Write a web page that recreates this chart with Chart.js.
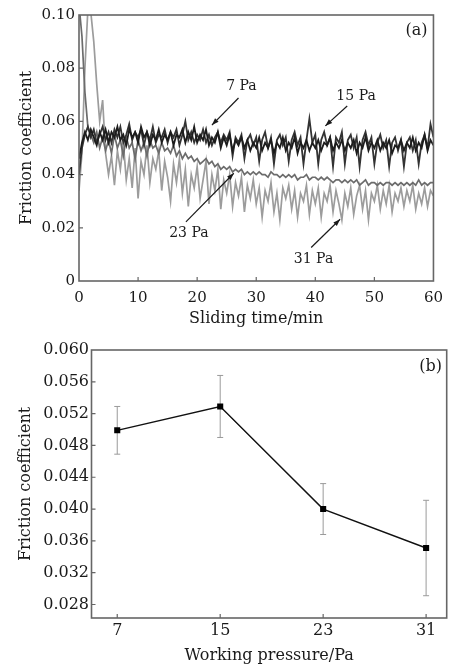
<!DOCTYPE html>
<html>
<head>
<meta charset="utf-8">
<script src="https://cdn.jsdelivr.net/npm/chart.js@4.4.0/dist/chart.umd.min.js"></script>
<style>
    body { margin: 0; background: #fff; }
    #wrapA { position: absolute; left: 0; top: 0; width: 451px; height: 330px; }
    #wrapB { position: absolute; left: 0; top: 330px; width: 451px; height: 336px; }
</style>
</head>
<body>
<div id="wrapA"><canvas id="chartA"></canvas></div>
<div id="wrapB"><canvas id="chartB"></canvas></div>
<script>
// ---- Panel (a): friction traces, one sample every 0.5 min from 0 to 60 min ----
const timeStep = 0.5;
const xTicksA = [0, 10, 20, 30, 40, 50, 60];
const yTicksA = [0, 0.02, 0.04, 0.06, 0.08, 0.10];
const yTickLabelsA = ['0', '0.02', '0.04', '0.06', '0.08', '0.10'];

const trace7Pa = [
    0.046, 0.052, 0.056, 0.053, 0.057, 0.054, 0.051, 0.056, 0.053, 0.057,
    0.052, 0.056, 0.054, 0.058, 0.053, 0.055, 0.051, 0.057, 0.054, 0.056,
    0.052, 0.058, 0.054, 0.056, 0.051, 0.055, 0.053, 0.057, 0.052, 0.055,
    0.053, 0.056, 0.051, 0.055, 0.054, 0.057, 0.052, 0.056, 0.053, 0.058,
    0.052, 0.055, 0.053, 0.057, 0.051, 0.054, 0.052, 0.056, 0.050, 0.054,
    0.051, 0.055, 0.049, 0.053, 0.051, 0.054, 0.050, 0.053, 0.049, 0.052,
    0.050, 0.054, 0.049, 0.052, 0.050, 0.053, 0.048, 0.052, 0.050, 0.054,
    0.049, 0.052, 0.050, 0.054, 0.048, 0.052, 0.050, 0.053, 0.049, 0.052,
    0.050, 0.053, 0.049, 0.052, 0.051, 0.054, 0.049, 0.052, 0.050, 0.053,
    0.049, 0.052, 0.050, 0.053, 0.048, 0.052, 0.050, 0.054, 0.049, 0.052,
    0.050, 0.053, 0.049, 0.052, 0.050, 0.053, 0.048, 0.051, 0.050, 0.053,
    0.049, 0.052, 0.050, 0.054, 0.049, 0.052, 0.050, 0.055, 0.049, 0.053,
    0.051
];
const trace15Pa = [
    0.040, 0.050, 0.055, 0.058, 0.054, 0.057, 0.052, 0.055, 0.058, 0.053,
    0.056, 0.052, 0.057, 0.054, 0.058, 0.052, 0.055, 0.059, 0.053, 0.056,
    0.054, 0.057, 0.051, 0.056, 0.053, 0.058, 0.052, 0.055, 0.054, 0.057,
    0.052, 0.056, 0.054, 0.057, 0.051, 0.055, 0.060, 0.053, 0.056, 0.052,
    0.055, 0.053, 0.057, 0.052, 0.055, 0.051, 0.054, 0.056, 0.052, 0.055,
    0.053, 0.056, 0.047, 0.054, 0.052, 0.055, 0.046, 0.053, 0.055, 0.051,
    0.054, 0.045, 0.053, 0.056, 0.050, 0.054, 0.044, 0.053, 0.055, 0.051,
    0.054, 0.045, 0.053, 0.056, 0.051, 0.054, 0.044, 0.053, 0.061, 0.052,
    0.055, 0.044, 0.053, 0.056, 0.051, 0.054, 0.043, 0.054, 0.052, 0.056,
    0.044, 0.053, 0.055, 0.050, 0.054, 0.043, 0.053, 0.056, 0.051, 0.054,
    0.044, 0.052, 0.055, 0.050, 0.053, 0.043, 0.052, 0.054, 0.049, 0.053,
    0.043, 0.052, 0.054, 0.049, 0.053, 0.044, 0.052, 0.055, 0.050, 0.059,
    0.054
];
const trace23Pa = [
    0.104, 0.092, 0.071, 0.058, 0.055, 0.052, 0.056, 0.050, 0.054, 0.049,
    0.053, 0.048, 0.055, 0.050, 0.053, 0.047, 0.054, 0.050, 0.052, 0.046,
    0.053, 0.049, 0.052, 0.047, 0.053, 0.050, 0.051, 0.048, 0.052, 0.049,
    0.050, 0.048, 0.051, 0.047, 0.049, 0.046, 0.048, 0.046, 0.047, 0.045,
    0.046, 0.044, 0.045, 0.046, 0.044, 0.045, 0.043, 0.044, 0.042, 0.043,
    0.042, 0.043, 0.041, 0.042, 0.041, 0.042, 0.040, 0.041, 0.040, 0.041,
    0.040, 0.041, 0.040, 0.040, 0.039, 0.041, 0.040, 0.040, 0.039, 0.040,
    0.039, 0.040, 0.039, 0.040, 0.038, 0.039, 0.039, 0.040, 0.038, 0.039,
    0.039, 0.038, 0.039, 0.038, 0.039, 0.038, 0.037, 0.038, 0.038, 0.037,
    0.038, 0.037, 0.038, 0.037, 0.038, 0.036, 0.037, 0.038, 0.036, 0.037,
    0.037, 0.036, 0.037, 0.036, 0.037, 0.037, 0.036, 0.037, 0.036, 0.037,
    0.036, 0.037, 0.036, 0.037, 0.036, 0.038, 0.036, 0.037, 0.036, 0.037,
    0.037
];
const trace31Pa = [
    0.034, 0.048, 0.080, 0.102, 0.101, 0.090, 0.074, 0.060, 0.068, 0.048,
    0.040, 0.047, 0.036, 0.049, 0.042, 0.052, 0.038, 0.046, 0.035, 0.050,
    0.031, 0.045, 0.040, 0.051, 0.037, 0.046, 0.042, 0.049, 0.034, 0.045,
    0.039, 0.030, 0.044, 0.037, 0.046, 0.033, 0.042, 0.028, 0.040, 0.035,
    0.043, 0.031, 0.038, 0.045, 0.029, 0.040, 0.034, 0.042, 0.027, 0.038,
    0.033, 0.040, 0.028, 0.037, 0.032, 0.039, 0.026, 0.036, 0.031, 0.038,
    0.029, 0.035, 0.024, 0.034, 0.030, 0.037, 0.026, 0.033, 0.023, 0.035,
    0.031, 0.036, 0.027, 0.034, 0.024, 0.033, 0.030, 0.036, 0.025, 0.034,
    0.029, 0.035, 0.024, 0.033, 0.030, 0.036, 0.026, 0.034, 0.029, 0.023,
    0.033, 0.028, 0.035, 0.025, 0.032, 0.036, 0.027, 0.034, 0.023, 0.033,
    0.030, 0.036, 0.027, 0.034, 0.029, 0.036, 0.026, 0.033, 0.030, 0.035,
    0.028, 0.034, 0.030, 0.036, 0.027, 0.033, 0.029, 0.035, 0.028, 0.034,
    0.032
];

// ---- Panel (b): mean friction coefficient vs working pressure ----
const pressures = [7, 15, 23, 31];
const meanFriction = [0.0499, 0.0529, 0.0400, 0.0351];
const errLow = [0.0469, 0.0490, 0.0368, 0.0291];
const errHigh = [0.0529, 0.0568, 0.0432, 0.0411];
const xTicksB = [7, 15, 23, 31];
const yTicksB = [0.028, 0.032, 0.036, 0.040, 0.044, 0.048, 0.052, 0.056, 0.060];

// Arrow labels of panel (a), placed in data units
const traceNotes = [
    { text: '7 Pa', at: [27.5, 0.0733], from: [27.0, 0.0688], to: [22.5, 0.0586] },
    { text: '15 Pa', at: [46.9, 0.0695], from: [45.4, 0.0658], to: [41.7, 0.0583] },
    { text: '23 Pa', at: [18.6, 0.0180], from: [18.1, 0.0222], to: [26.2, 0.0405] },
    { text: '31 Pa', at: [39.7, 0.0083], from: [39.3, 0.0126], to: [44.2, 0.0232] }
];

Chart.defaults.font.family = "'DejaVu Serif', 'Liberation Serif', serif";
Chart.defaults.color = '#1a1a1a';
Chart.defaults.responsive = true;
Chart.defaults.maintainAspectRatio = false;
Chart.defaults.animation = false;

const toPoints = vals => vals.map((v, i) => ({ x: i * timeStep, y: v }));

// Box frame, inward ticks and the panel tag
const framePlugin = {
    id: 'frame',
    afterDraw(chart, args, opts) {
        const { ctx, chartArea: a, scales } = chart;
        ctx.save();
        ctx.strokeStyle = '#666';
        ctx.lineWidth = 1.2;
        ctx.beginPath();
        scales.x.ticks.forEach(t => {
            const px = scales.x.getPixelForValue(t.value);
            if (px <= a.left + 1 || px >= a.right - 1) return;
            ctx.moveTo(px, a.bottom);
            ctx.lineTo(px, a.bottom - 4);
        });
        scales.y.ticks.forEach(t => {
            const py = scales.y.getPixelForValue(t.value);
            if (py <= a.top + 1 || py >= a.bottom - 1) return;
            ctx.moveTo(a.left, py);
            ctx.lineTo(a.left + 4, py);
        });
        ctx.stroke();
        ctx.lineWidth = 1.6;
        ctx.strokeRect(a.left, a.top, a.right - a.left, a.bottom - a.top);
        ctx.fillStyle = '#1a1a1a';
        ctx.font = "16px 'DejaVu Serif'";
        ctx.textAlign = 'center';
        ctx.textBaseline = 'middle';
        ctx.fillText(opts.tag, a.right - opts.dx, a.top + opts.dy);
        ctx.restore();
    }
};

// Text + arrow annotations for panel (a)
const notesPlugin = {
    id: 'notes',
    afterDatasetsDraw(chart) {
        const { ctx, scales: { x, y } } = chart;
        ctx.save();
        ctx.fillStyle = '#1a1a1a';
        ctx.strokeStyle = '#1a1a1a';
        ctx.lineWidth = 1.2;
        ctx.font = "14px 'DejaVu Serif'";
        ctx.textAlign = 'center';
        ctx.textBaseline = 'middle';
        traceNotes.forEach(n => {
            ctx.fillText(n.text, x.getPixelForValue(n.at[0]), y.getPixelForValue(n.at[1]));
            const x0 = x.getPixelForValue(n.from[0]), y0 = y.getPixelForValue(n.from[1]);
            const x1 = x.getPixelForValue(n.to[0]), y1 = y.getPixelForValue(n.to[1]);
            const ang = Math.atan2(y1 - y0, x1 - x0);
            ctx.beginPath();
            ctx.moveTo(x0, y0);
            ctx.lineTo(x1, y1);
            ctx.stroke();
            ctx.beginPath();
            ctx.moveTo(x1, y1);
            ctx.lineTo(x1 - 7 * Math.cos(ang) + 2.5 * Math.sin(ang), y1 - 7 * Math.sin(ang) - 2.5 * Math.cos(ang));
            ctx.lineTo(x1 - 7 * Math.cos(ang) - 2.5 * Math.sin(ang), y1 - 7 * Math.sin(ang) + 2.5 * Math.cos(ang));
            ctx.closePath();
            ctx.fill();
        });
        ctx.restore();
    }
};

// Error bars for panel (b)
const errorBarPlugin = {
    id: 'errorBars',
    beforeDatasetsDraw(chart) {
        const { ctx, scales: { x, y } } = chart;
        ctx.save();
        ctx.strokeStyle = '#9a9a9a';
        ctx.lineWidth = 1;
        ctx.beginPath();
        pressures.forEach((p, i) => {
            const px = x.getPixelForValue(p);
            const lo = y.getPixelForValue(errLow[i]);
            const hi = y.getPixelForValue(errHigh[i]);
            ctx.moveTo(px, lo); ctx.lineTo(px, hi);
            ctx.moveTo(px - 3, lo); ctx.lineTo(px + 3, lo);
            ctx.moveTo(px - 3, hi); ctx.lineTo(px + 3, hi);
        });
        ctx.stroke();
        ctx.restore();
    }
};

function traceSet(label, vals, color, width) {
    return {
        label: label,
        data: toPoints(vals),
        borderColor: color,
        borderWidth: width,
        pointRadius: 0,
        tension: 0,
        fill: false
    };
}

// Chart (a)
new Chart(document.getElementById('chartA').getContext('2d'), {
    type: 'line',
    data: {
        datasets: [
            traceSet('7 Pa', trace7Pa, '#1c1c1c', 1.8),
            traceSet('15 Pa', trace15Pa, '#333333', 1.8),
            traceSet('23 Pa', trace23Pa, '#6c6c6c', 1.7),
            traceSet('31 Pa', trace31Pa, '#9c9c9c', 1.7)
        ]
    },
    options: {
        layout: { padding: { left: 0, right: 14, top: 15, bottom: 0 } },
        plugins: {
            legend: { display: false },
            tooltip: { enabled: false },
            frame: { tag: '(a)', dx: 17, dy: 16 }
        },
        scales: {
            x: {
                type: 'linear',
                min: 0,
                max: 60,
                afterBuildTicks: s => { s.ticks = xTicksA.map(v => ({ value: v })); },
                afterFit: s => { s.height = 49; },
                ticks: { padding: 8, font: { size: 15 }, maxRotation: 0 },
                grid: { display: false, drawTicks: false },
                border: { display: false },
                title: { display: true, text: 'Sliding time/min', font: { size: 16 }, padding: { top: 0, bottom: 2 } }
            },
            y: {
                min: 0,
                max: 0.1,
                afterBuildTicks: s => { s.ticks = yTicksA.map(v => ({ value: v })); },
                afterFit: s => { s.width = 79; },
                ticks: { padding: 4, font: { size: 15 }, callback: (v, i) => yTickLabelsA[i] },
                grid: { display: false, drawTicks: false },
                border: { display: false },
                title: { display: true, text: 'Friction coefficient', font: { size: 16 }, padding: { top: 17, bottom: 0 } }
            }
        }
    },
    plugins: [framePlugin, notesPlugin]
});

// Chart (b)
new Chart(document.getElementById('chartB').getContext('2d'), {
    type: 'line',
    data: {
        datasets: [{
            label: 'Friction coefficient',
            data: pressures.map((p, i) => ({ x: p, y: meanFriction[i] })),
            borderColor: '#111',
            borderWidth: 1.4,
            pointStyle: 'rect',
            pointRadius: 4.3,
            pointBackgroundColor: '#000',
            pointBorderColor: '#000',
            pointBorderWidth: 0,
            tension: 0
        }]
    },
    options: {
        layout: { padding: { left: 0, right: 3, top: 20, bottom: 0 } },
        plugins: {
            legend: { display: false },
            tooltip: { enabled: false },
            frame: { tag: '(b)', dx: 16, dy: 17 }
        },
        scales: {
            x: {
                type: 'linear',
                min: 5,
                max: 32.6,
                afterBuildTicks: s => { s.ticks = xTicksB.map(v => ({ value: v })); },
                afterFit: s => { s.height = 48; },
                ticks: { padding: 3, font: { size: 16 }, maxRotation: 0 },
                grid: { display: false, drawTicks: false },
                border: { display: false },
                title: { display: true, text: 'Working pressure/Pa', font: { size: 16 }, padding: { top: 0, bottom: 1 } }
            },
            y: {
                min: 0.0263,
                max: 0.060,
                afterBuildTicks: s => { s.ticks = yTicksB.map(v => ({ value: v })); },
                afterFit: s => { s.width = 91.5; },
                ticks: { padding: 2.5, font: { size: 16 }, callback: v => v.toFixed(3) },
                grid: { display: false, drawTicks: false },
                border: { display: false },
                title: { display: true, text: 'Friction coefficient', font: { size: 16 }, padding: { top: 16, bottom: 0 } }
            }
        }
    },
    plugins: [framePlugin, errorBarPlugin]
});
</script>
</body>
</html>
